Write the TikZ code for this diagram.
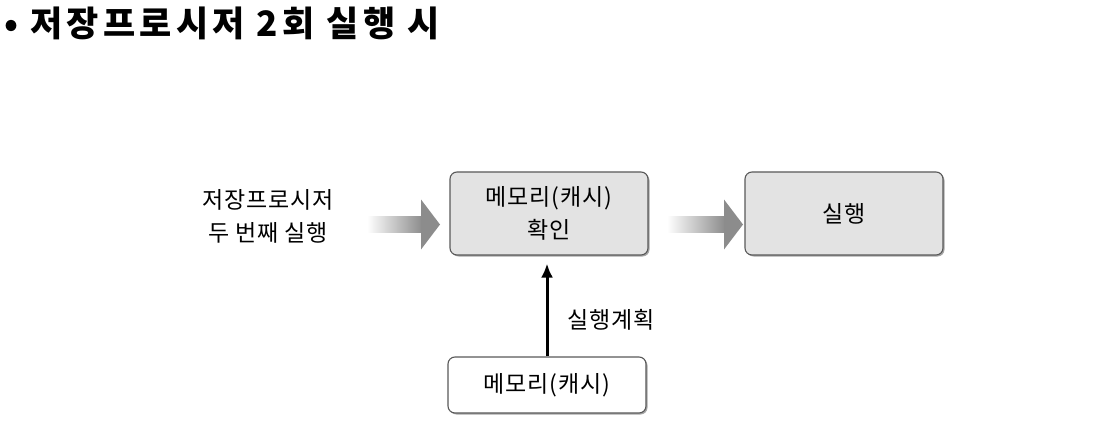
\documentclass[tikz,border=0pt]{standalone}
\usepackage{fontspec}
\setmainfont{Noto Sans CJK KR}[LetterSpace=4]
\newfontfamily\titlefont{Noto Sans CJK KR}[LetterSpace=12]
\usetikzlibrary{shadows,calc,arrows.meta}
\begin{document}
\begin{tikzpicture}[x=1pt,y=-1pt,
  box/.style={draw=black!65, line width=1.1pt, rounded corners=7pt, minimum width=198pt, minimum height=83pt, fill=black!11, align=center, font=\fontsize{23}{33}\selectfont,
    drop shadow={shadow xshift=1.5pt, shadow yshift=-1.5pt, opacity=0.35, fill=black}},
  wbox/.style={box, fill=white, minimum height=56pt},
  lbl/.style={align=center, font=\fontsize{23}{33}\selectfont, inner sep=0pt}
]
\useasboundingbox (0,0) rectangle (1112,433);
\node[anchor=west, inner sep=0pt, font=\titlefont\fontsize{35}{40}\bfseries\selectfont] (title) at (4,23) {• 저장프로시저 2회 실행 시};
\node[lbl] (start) at (268,216) {저장프로시저\\두 번째 실행};
\node[box] (chk) at (549,213.5) {메모리(캐시)\\확인};
\node[box] (run) at (844,213.5) {실행};
\node[wbox] (mem) at (547,385) {메모리(캐시)};
\node[lbl, anchor=west] (plan) at (567,320) {실행계획};
% gradient arrows
\coordinate (a1s) at (367,224.5);
\coordinate (a1t) at (440,224.5);
\coordinate (a2s) at (667,224.5);
\coordinate (a2t) at (743,224.5);
\foreach \s/\t in {a1s/a1t,a2s/a2t}{
  \shade[left color=white, right color=black!45]
    ($(\s)+(0,-7.5)$) rectangle ($(\t)+(-18,7.5)$);
  \fill[black!45] ($(\t)+(-19,-25)$) -- (\t) -- ($(\t)+(-19,25)$) -- cycle;
}
\draw[line width=3pt, -{Latex[length=14pt,width=12pt]}, shorten >=8pt] (mem.north) -- (chk.south -| mem.north);
\end{tikzpicture}
\end{document}
